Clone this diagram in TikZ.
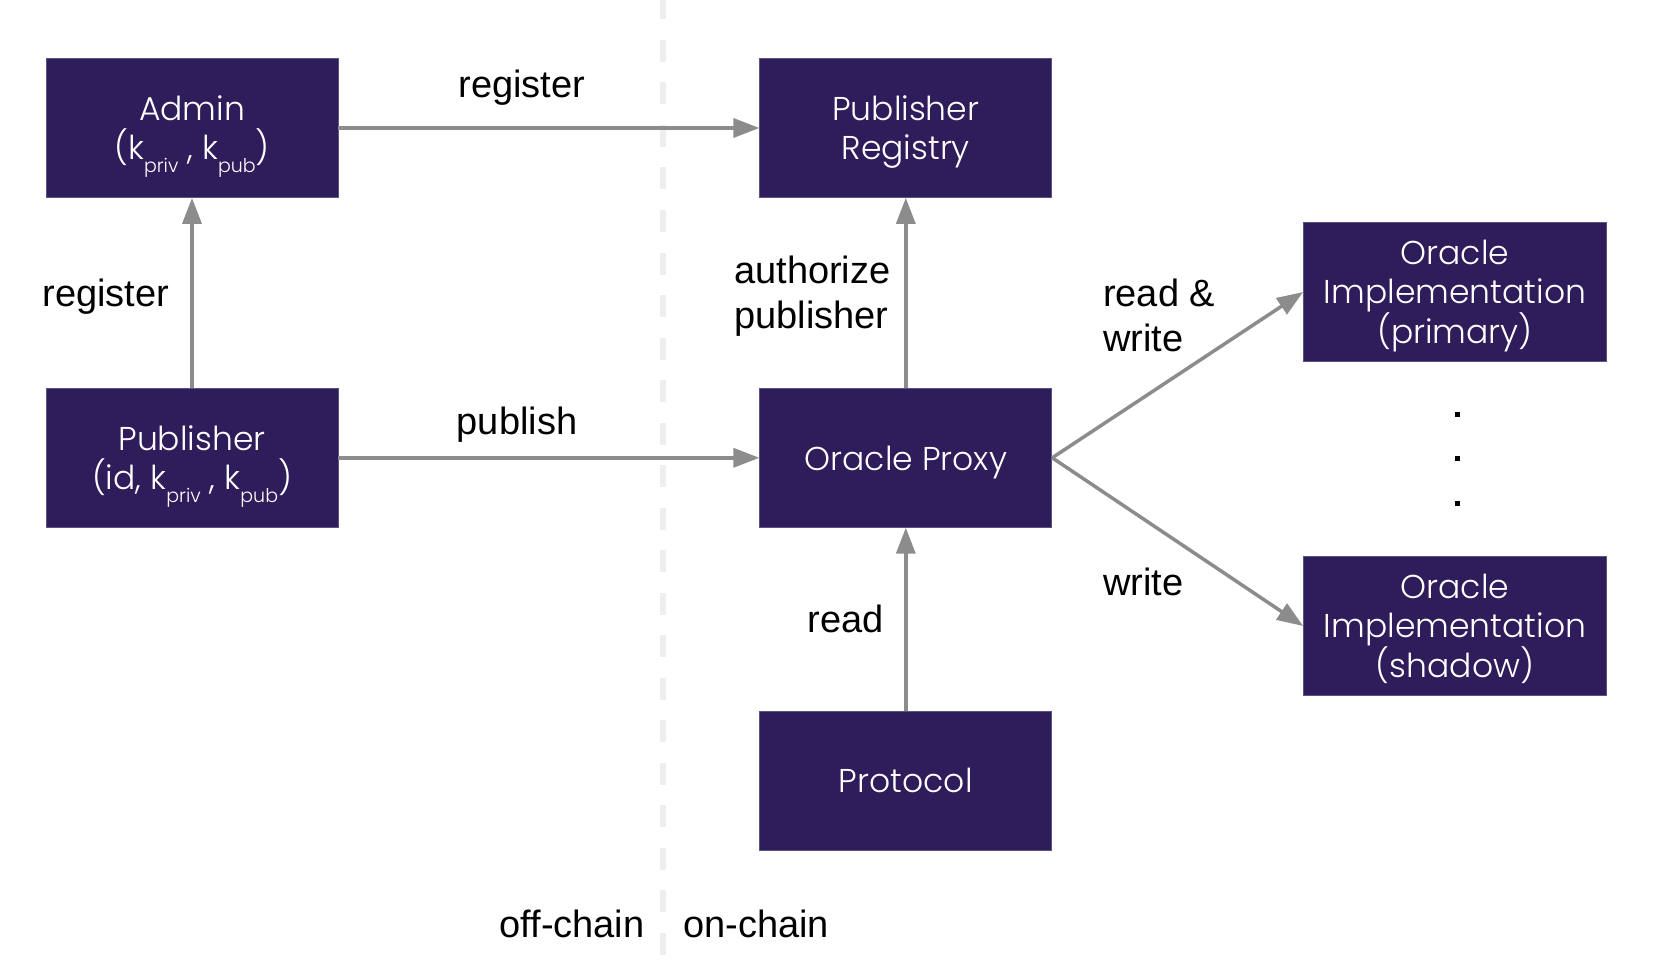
\documentclass[tikz,border=0pt]{standalone}
\usepackage{fontspec}
\setmainfont{Liberation Sans}
\newfontfamily\boxfont{Poppins Light}
\usetikzlibrary{positioning,arrows.meta}

\definecolor{boxpurple}{HTML}{2F1C5B}
\definecolor{boxedge}{HTML}{5E5283}
\definecolor{arrowgray}{HTML}{8C8C8C}
\definecolor{dashgray}{HTML}{EEEEEE}

\newcommand{\lowtext}[1]{\raisebox{-13pt}[0pt][0pt]{\fontsize{19}{19}\selectfont #1}}
\newcommand{\flatline}[1]{\raisebox{0pt}[\height][0pt]{#1}}

\begin{document}
\begin{tikzpicture}[x=1pt, y=-1pt,
	block/.style={rectangle, fill=boxpurple, draw=boxedge, line width=0.8pt, text=white, minimum width=292pt, minimum height=139pt, inner sep=0pt, align=center, font=\boxfont\fontsize{33}{39}\selectfont},
	flow/.style={draw=arrowgray, line width=3.5pt, -{Triangle[length=26pt, width=19pt]}},
	lbl/.style={inner sep=0pt, font=\fontsize{38}{45}\selectfont}]

	\useasboundingbox (0,0) rectangle (1656,960);

	% off-chain / on-chain divider
	\draw[dashgray, line width=6pt, dash pattern=on 22pt off 20.5pt, dash phase=2.5pt] (663,0) -- (663,955);

	\node[block] (admin) at (192,128) {Admin\\\flatline{(k\lowtext{priv} , k\lowtext{pub})}};
	\node[block] (registry)[right=421pt of admin] {Publisher\\\flatline{Registry}};
	\node[block] (publisher)[below=190pt of admin] {Publisher\\\flatline{(id, k\lowtext{priv} , k\lowtext{pub})}};
	\node[block] (proxy)[right=421pt of publisher] {\flatline{Oracle Proxy}};
	\node[block] (protocol)[below=183pt of proxy] {Protocol};
	\node[block, minimum width=303pt] (primary) at (1455,292) {Oracle\\Implementation\\\flatline{(primary)}};
	\node[block, minimum width=303pt] (shadow) at (1455,626) {Oracle\\Implementation\\\flatline{(shadow)}};

	\fill (1455,412) rectangle +(5,5);
	\fill (1455,456) rectangle +(5,5);
	\fill (1455,501) rectangle +(5,5);

	\path
		(admin) edge[flow] (registry)
		(publisher) edge[flow] (admin)
		(publisher) edge[flow] (proxy)
		(proxy) edge[flow] (registry)
		(protocol) edge[flow] (proxy)
		(proxy.east) edge[flow] (primary.west)
		(proxy.east) edge[flow] (shadow.west)
	;

	\node[lbl] (lregister) at (522,88) {register};
	\node[lbl] (lregisteradmin) at (106,297) {register};
	\node[lbl] (lpublish) at (517,425) {publish};
	\node[lbl, anchor=west, align=left] (lauthorize) at (734,296) {authorize\\publisher};
	\node[lbl, anchor=west, align=left] (lreadwrite) at (1103,315) {read \&\\write};
	\node[lbl, anchor=west] (lwrite) at (1103,582) {write};
	\node[lbl] (lread) at (846,619) {read};
	\node[lbl] (loffchain) at (572,924) {off-chain};
	\node[lbl] (lonchain) at (756,924) {on-chain};
\end{tikzpicture}
\end{document}
